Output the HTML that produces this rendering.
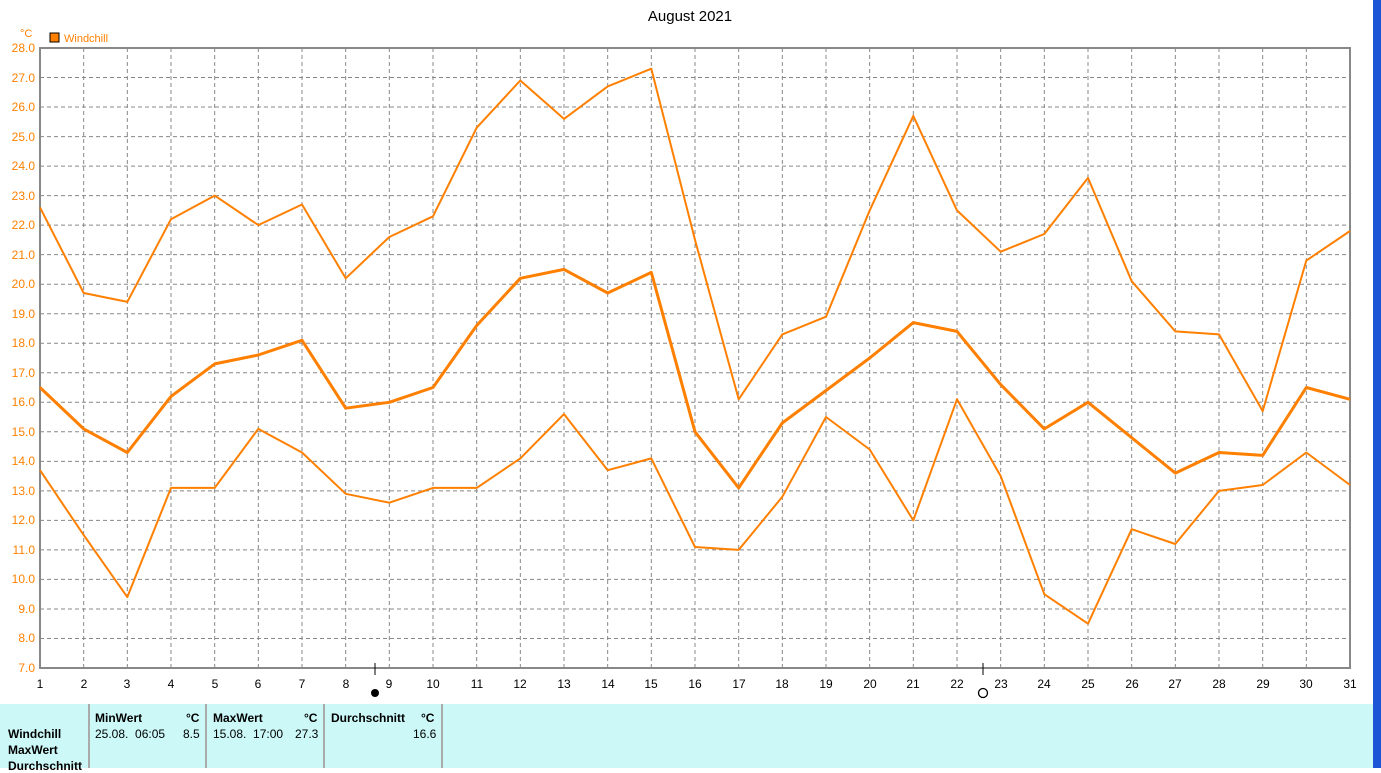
<!DOCTYPE html>
<html><head><meta charset="utf-8"><style>
body{margin:0;width:1381px;height:768px;background:#fff;overflow:hidden;font-family:"Liberation Sans",sans-serif;position:relative}
svg{position:absolute;left:0;top:0}
.tb{position:absolute;left:0;top:704px;width:1373px;height:64px;background:#ccf8f8}
.tb div{position:absolute;font-size:12px;color:#000}
.b{font-weight:bold}
.v{position:absolute;top:0;width:2px;height:64px;background:#aaa}
</style></head><body>
<svg width="1381" height="768" font-family="Liberation Sans, sans-serif">
<rect x="1373" y="0" width="8" height="768" fill="#1c55d6"/>
<text x="690" y="21" font-size="15" text-anchor="middle">August 2021</text>
<text x="20" y="37" font-size="11" fill="#ff8000">°C</text>
<rect x="50" y="33" width="9" height="9" fill="#ff8000" stroke="#000"/>
<text x="64" y="42" font-size="11" fill="#ff8000">Windchill</text>
<g id="grid" stroke="#888" stroke-dasharray="4,3" stroke-width="1"></g>
<rect x="40" y="48" width="1310" height="620" fill="none" stroke="#888" stroke-width="2"/>
<g font-size="12" fill="#ff8000" text-anchor="end">
<text x="35" y="52">28.0</text><text x="35" y="82">27.0</text><text x="35" y="111">26.0</text><text x="35" y="141">25.0</text><text x="35" y="170">24.0</text><text x="35" y="200">23.0</text><text x="35" y="229">22.0</text><text x="35" y="259">21.0</text><text x="35" y="288">20.0</text><text x="35" y="318">19.0</text><text x="35" y="347">18.0</text><text x="35" y="377">17.0</text><text x="35" y="406">16.0</text><text x="35" y="436">15.0</text><text x="35" y="465">14.0</text><text x="35" y="495">13.0</text><text x="35" y="524">12.0</text><text x="35" y="554">11.0</text><text x="35" y="583">10.0</text><text x="35" y="613">9.0</text><text x="35" y="642">8.0</text><text x="35" y="672">7.0</text>
</g>
<g font-size="12" fill="#000" text-anchor="middle">
<text x="40" y="688">1</text><text x="84" y="688">2</text><text x="127" y="688">3</text><text x="171" y="688">4</text><text x="215" y="688">5</text><text x="258" y="688">6</text><text x="302" y="688">7</text><text x="346" y="688">8</text><text x="389" y="688">9</text><text x="433" y="688">10</text><text x="477" y="688">11</text><text x="520" y="688">12</text><text x="564" y="688">13</text><text x="608" y="688">14</text><text x="651" y="688">15</text><text x="695" y="688">16</text><text x="739" y="688">17</text><text x="782" y="688">18</text><text x="826" y="688">19</text><text x="870" y="688">20</text><text x="913" y="688">21</text><text x="957" y="688">22</text><text x="1001" y="688">23</text><text x="1044" y="688">24</text><text x="1088" y="688">25</text><text x="1132" y="688">26</text><text x="1175" y="688">27</text><text x="1219" y="688">28</text><text x="1263" y="688">29</text><text x="1306" y="688">30</text><text x="1350" y="688">31</text>
</g>
<line x1="375" y1="663" x2="375" y2="675" stroke="#000"/><circle cx="375" cy="693" r="4" fill="#000"/>
<line x1="983" y1="663" x2="983" y2="675" stroke="#000"/><circle cx="983" cy="693" r="4.5" fill="#fff" stroke="#000" stroke-width="1.3"/>
<g id="lines" fill="none" stroke="#ff8000" stroke-linejoin="round"></g>
</svg>
<div class="tb">
<div class="v" style="left:88px"></div><div class="v" style="left:205px"></div><div class="v" style="left:323px"></div><div class="v" style="left:441px"></div>
<div class="b" style="left:8px;top:23px">Windchill</div>
<div class="b" style="left:8px;top:39px">MaxWert</div>
<div class="b" style="left:8px;top:55px">Durchschnitt</div>
<div class="b" style="left:95px;top:7px">MinWert</div><div class="b" style="left:186px;top:7px">°C</div>
<div style="left:95px;top:23px">25.08.&nbsp; 06:05</div><div style="left:183px;top:23px">8.5</div>
<div class="b" style="left:213px;top:7px">MaxWert</div><div class="b" style="left:304px;top:7px">°C</div>
<div style="left:213px;top:23px">15.08.&nbsp; 17:00</div><div style="left:295px;top:23px">27.3</div>
<div class="b" style="left:331px;top:7px">Durchschnitt</div><div class="b" style="left:421px;top:7px">°C</div>
<div style="left:413px;top:23px">16.6</div>
</div>
<script>
var X=function(d){return 40+(d-1)*1310/30},Y=function(v){return 48+(28-v)*620/21};
var g=document.getElementById('grid'),s='';
for(var d=2;d<=30;d++)s+='<line x1="'+X(d)+'" y1="48" x2="'+X(d)+'" y2="668"/>';
for(var v=8;v<=27;v++)s+='<line x1="40" y1="'+Y(v)+'" x2="1350" y2="'+Y(v)+'"/>';
g.innerHTML=s;
var mx=[22.6,19.7,19.4,22.2,23.0,22.0,22.7,20.2,21.6,22.3,25.3,26.9,25.6,26.7,27.3,21.5,16.1,18.3,18.9,22.5,25.7,22.5,21.1,21.7,23.6,20.1,18.4,18.3,15.7,20.8,21.8];
var av=[16.5,15.1,14.3,16.2,17.3,17.6,18.1,15.8,16.0,16.5,18.6,20.2,20.5,19.7,20.4,15.0,13.1,15.3,16.4,17.5,18.7,18.4,16.6,15.1,16.0,14.8,13.6,14.3,14.2,16.5,16.1];
var mn=[13.7,11.5,9.4,13.1,13.1,15.1,14.3,12.9,12.6,13.1,13.1,14.1,15.6,13.7,14.1,11.1,11.0,12.8,15.5,14.4,12.0,16.1,13.5,9.5,8.5,11.7,11.2,13.0,13.2,14.3,13.2];
function pl(a,w){return '<polyline stroke-width="'+w+'" points="'+a.map(function(v,i){return X(i+1).toFixed(1)+','+Y(v).toFixed(1)}).join(' ')+'"/>';}
document.getElementById('lines').innerHTML=pl(mx,2)+pl(mn,2)+pl(av,3);
</script>
</body></html>
